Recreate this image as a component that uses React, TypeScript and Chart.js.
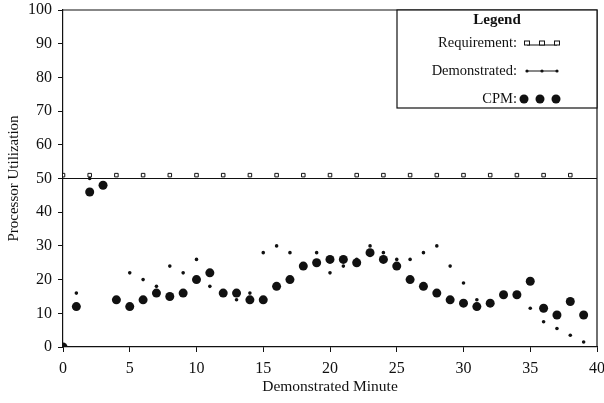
import { useEffect, useRef } from "react";
import { Chart, registerables } from "chart.js";

Chart.register(...registerables);

const minutes = [0,1,2,3,4,5,6,7,8,9,10,11,12,13,14,15,16,17,18,19,20,21,22,23,24,25,26,27,28,29,30,31,32,33,34,35,36,37,38,39];
const cpm = [0,12,46,48,14,12,14,16,15,16,20,22,16,16,14,14,18,20,24,25,26,26,25,28,26,24,20,18,16,14,13,12,13,15.5,15.5,19.5,11.5,9.5,13.5,9.5];
const demonstrated = [0,16,50,48,14,22,20,18,24,22,26,18,16,14,16,28,30,28,24,28,22,24,26,30,28,26,26,28,30,24,19,14,13.5,15.5,15.5,11.5,7.5,5.5,3.5,1.5];
const requirementMinutes = [0,2,4,6,8,10,12,14,16,18,20,22,24,26,28,30,32,34,36,38];
const requirementMarks = [51,51,51,51,51,51,51,51,51,51,51,51,51,51,51,51,51,51,51,51];
const requirementLineMinutes = [0, 40];
const requirementLine = [50, 50];
const xTicks = [0,5,10,15,20,25,30,35,40];
const yTicks = [0,10,20,30,40,50,60,70,80,90,100];
const legendLabels = ["Requirement:", "Demonstrated:", "CPM:"];

const SERIF = "'Liberation Serif', 'DejaVu Serif', serif";

const framePlugin = {
  id: "frameAndLegend",
  afterDraw(chart: any) {
    const { ctx, chartArea } = chart;
    const { left, right, top, bottom } = chartArea;
    ctx.save();
    ctx.strokeStyle = "#111";
    ctx.lineWidth = 1.2;
    ctx.beginPath();
    ctx.moveTo(left, top);
    ctx.lineTo(right, top);
    ctx.lineTo(right, bottom);
    ctx.stroke();

    // legend box
    const bx = 397, by = top, bw = right - 397, bh = 98;
    ctx.fillStyle = "#fff";
    ctx.fillRect(bx, by, bw, bh);
    ctx.strokeRect(bx, by, bw, bh);

    ctx.fillStyle = "#111";
    ctx.font = `bold 15px ${SERIF}`;
    ctx.textAlign = "center";
    ctx.textBaseline = "middle";
    ctx.fillText("Legend", 497, by + 10);

    ctx.font = `14.5px ${SERIF}`;
    ctx.textAlign = "right";
    const rows = [by + 33, by + 61, by + 89];
    legendLabels.forEach((t, i) => ctx.fillText(t, 517, rows[i]));

    const sx = [527, 542, 557];
    // Requirement sample
    ctx.lineWidth = 1;
    ctx.beginPath();
    ctx.moveTo(sx[0], rows[0] + 2);
    ctx.lineTo(sx[2], rows[0] + 2);
    ctx.stroke();
    sx.forEach((x) => {
      ctx.fillStyle = "#fff";
      ctx.fillRect(x - 2.5, rows[0] - 2, 5, 4);
      ctx.strokeRect(x - 2.5, rows[0] - 2, 5, 4);
    });
    // Demonstrated sample
    ctx.beginPath();
    ctx.moveTo(sx[0], rows[1]);
    ctx.lineTo(sx[2], rows[1]);
    ctx.stroke();
    ctx.fillStyle = "#111";
    sx.forEach((x) => {
      ctx.beginPath();
      ctx.arc(x, rows[1], 1.6, 0, Math.PI * 2);
      ctx.fill();
    });
    // CPM sample
    [524, 540, 556].forEach((x) => {
      ctx.beginPath();
      ctx.arc(x, rows[2], 4.5, 0, Math.PI * 2);
      ctx.fill();
    });
    ctx.restore();
  },
};

export default function App() {
  const ref = useRef<HTMLCanvasElement>(null);

  useEffect(() => {
    document.body.style.margin = "0";
    const canvas = ref.current;
    if (!canvas) return;
    const chart = new Chart(canvas, {
      type: "scatter",
      data: {
        datasets: [
          {
            label: "Requirement line",
            data: requirementLineMinutes.map((x, i) => ({ x, y: requirementLine[i] })),
            showLine: true,
            borderColor: "#111",
            borderWidth: 1.2,
            pointRadius: 0,
          },
          {
            label: "Requirement",
            data: requirementMinutes.map((x, i) => ({ x, y: requirementMarks[i] })),
            pointStyle: "rect",
            pointRadius: 2.5,
            backgroundColor: "#fff",
            borderColor: "#111",
            borderWidth: 1,
          },
          {
            label: "Demonstrated",
            data: minutes.map((x, i) => ({ x, y: demonstrated[i] })),
            pointRadius: 1.8,
            backgroundColor: "#111",
            borderColor: "#111",
            borderWidth: 0,
          },
          {
            label: "CPM",
            data: minutes.map((x, i) => ({ x, y: cpm[i] })),
            pointRadius: 4.5,
            backgroundColor: "#111",
            borderColor: "#111",
            borderWidth: 0,
          },
        ],
      },
      options: {
        animation: false,
        responsive: false,
        layout: { padding: { top: 10, right: 7, left: 0, bottom: 0 } },
        plugins: { legend: { display: false }, tooltip: { enabled: false } },
        scales: {
          x: {
            type: "linear",
            min: 0,
            max: 40,
            afterBuildTicks: (axis: any) => {
              axis.ticks = xTicks.map((v) => ({ value: v }));
            },
            afterFit: (axis: any) => {
              axis.height = 56;
              axis.paddingLeft = 0;
              axis.paddingRight = 0;
            },
            grid: { drawOnChartArea: false, drawTicks: true, tickLength: 5, color: "#111" },
            border: { display: true, color: "#111", width: 1.2 },
            ticks: { color: "#111", font: { family: SERIF, size: 16 }, padding: 7, maxRotation: 0 },
            title: {
              display: true,
              text: "Demonstrated Minute",
              color: "#111",
              font: { family: SERIF, size: 15.5 },
              padding: { top: 0, bottom: 7 },
            },
          },
          y: {
            type: "linear",
            min: 0,
            max: 100,
            afterBuildTicks: (axis: any) => {
              axis.ticks = yTicks.map((v) => ({ value: v }));
            },
            afterFit: (axis: any) => {
              axis.width = 63;
              axis.paddingTop = 0;
              axis.paddingBottom = 0;
            },
            grid: { drawOnChartArea: false, drawTicks: true, tickLength: 5, color: "#111" },
            border: { display: true, color: "#111", width: 1.2 },
            ticks: { color: "#111", font: { family: SERIF, size: 16 }, padding: 6 },
            title: {
              display: true,
              text: "Processor Utilization",
              color: "#111",
              font: { family: SERIF, size: 15 },
              padding: { top: 5, bottom: 4 },
            },
          },
        },
      },
      plugins: [framePlugin],
    });
    return () => chart.destroy();
  }, []);

  return <canvas ref={ref} width={604} height={403} style={{ display: "block" }} />;
}
